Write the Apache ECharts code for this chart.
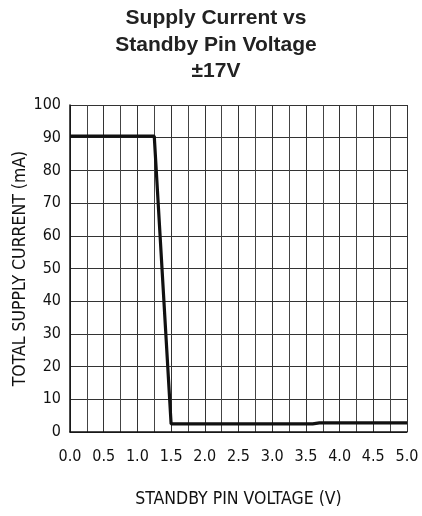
<!DOCTYPE html>
<html>
<head>
<meta charset="utf-8">
<script src="https://cdn.jsdelivr.net/npm/echarts@6/dist/echarts.min.js"></script>
<style>
  html, body { margin: 0; padding: 0; background: #fff; }
  #chart { width: 422px; height: 516px; }
</style>
</head>
<body>
<div id="chart"></div>
<script>
// standby pin voltage (V) vs total supply current (mA)
const voltage = [0.0, 1.25, 1.5, 3.6, 3.7, 5.0];
const current = [90.5, 90.5, 2.5, 2.5, 2.8, 2.8];

const titleLines = ["Supply Current vs", "Standby Pin Voltage", "±17V"];
const narrow = "'Liberation Sans Narrow', 'DejaVu Sans Condensed', 'Liberation Sans', sans-serif";

const chart = echarts.init(document.getElementById("chart"));
chart.setOption({
  animation: false,
  title: {
    text: titleLines.join("\n"),
    left: 211,
    top: 0,
    textAlign: "center",
    textStyle: { fontFamily: "'Liberation Sans', Arial, sans-serif", fontWeight: "bold", fontSize: 21, lineHeight: 26.5, color: "#222" }
  },
  grid: { left: 70, right: 15, top: 105, bottom: 84, containLabel: false, outerBoundsMode: "none" },
  xAxis: {
    type: "value",
    min: 0, max: 5, interval: 0.5,
    name: "STANDBY PIN VOLTAGE (V)",
    nameLocation: "middle",
    nameGap: 58,
    nameMoveOverlap: false,
    nameTextStyle: { fontFamily: narrow, fontSize: 17.5, color: "#111" },
    axisLine: { show: true, lineStyle: { color: "#111", width: 1.5 } },
    axisTick: { show: false },
    axisLabel: { fontFamily: narrow, fontSize: 16, color: "#111", margin: 17, formatter: v => v.toFixed(1) },
    splitLine: { show: true, lineStyle: { color: "#333", width: 1 } },
    minorTick: { show: false, splitNumber: 2 },
    minorSplitLine: { show: true, lineStyle: { color: "#444", width: 1 } }
  },
  yAxis: {
    type: "value",
    min: 0, max: 100, interval: 10,
    name: "TOTAL SUPPLY CURRENT (mA)",
    nameLocation: "middle",
    nameGap: 41,
    nameMoveOverlap: false,
    nameTextStyle: { fontFamily: narrow, fontSize: 17.5, color: "#111" },
    axisLine: { show: true, lineStyle: { color: "#111", width: 1.5 } },
    axisTick: { show: false },
    axisLabel: { fontFamily: narrow, fontSize: 16, color: "#111", margin: 9 },
    splitLine: { show: true, lineStyle: { color: "#333", width: 1 } }
  },
  series: [{
    type: "line",
    data: voltage.map((v, i) => [v, current[i]]),
    showSymbol: false,
    lineStyle: { color: "#111", width: 3.2 }
  }]
});
</script>
</body>
</html>
